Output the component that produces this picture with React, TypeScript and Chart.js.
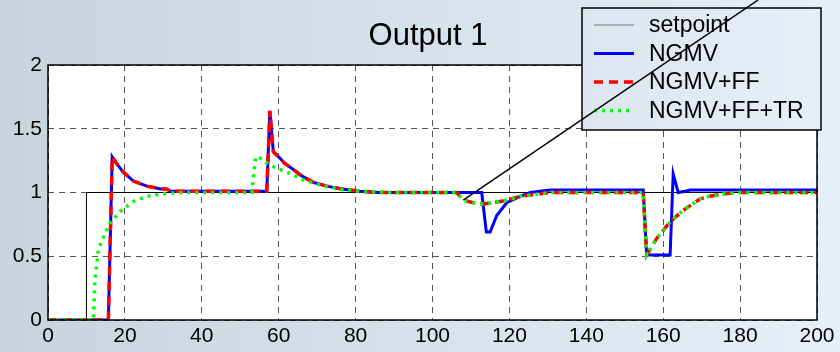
import React, { useEffect, useRef } from "react";
import { Chart, registerables } from "chart.js";

Chart.register(...registerables);

const titleText = "Output 1";
const seriesNames = ["setpoint", "NGMV", "NGMV+FF", "NGMV+FF+TR"];
const xTicks = [0, 200, 20];
const yTicks = [0, 2, 0.5];

const setpoint: [number, number][] = [
  [0, 0], [10, 0], [10, 1], [200, 1],
];

const ngmv: [number, number][] = [
  [0, 0], [15.7, 0], [16.7, 1.28], [18, 1.22], [19.6, 1.16], [22.2, 1.09], [25.7, 1.05],
  [29, 1.03], [31, 1.025], [31.8, 1.01], [56.9, 1.01], [57.7, 1.64], [58.6, 1.32],
  [60.3, 1.27], [61.5, 1.23], [63.8, 1.18], [66, 1.13], [69, 1.08], [72.5, 1.05],
  [76, 1.03], [81, 1.01], [86, 1.0], [112.8, 1.0], [114, 0.69], [115, 0.69],
  [116.7, 0.82], [119.3, 0.92], [122.8, 0.97], [125.4, 1.0], [130.6, 1.02],
  [154.8, 1.02], [155.7, 0.51], [161.8, 0.51], [162.6, 1.145], [163.9, 1.0],
  [165.7, 1.01], [167, 1.02], [200, 1.02],
];

const ngmvFF: [number, number][] = [
  [0, 0], [15.7, 0], [16.7, 1.28], [18, 1.22], [19.6, 1.16], [22.2, 1.09], [25.7, 1.05],
  [29, 1.03], [31, 1.025], [31.8, 1.01], [56.9, 1.01], [57.7, 1.64], [58.6, 1.32],
  [60.3, 1.27], [61.5, 1.23], [63.8, 1.18], [66, 1.13], [69, 1.08], [72.5, 1.05],
  [76, 1.03], [81, 1.01], [86, 1.0], [106.3, 1.0], [108, 0.94], [110.6, 0.92],
  [113.2, 0.91], [115.8, 0.92], [119.3, 0.94], [122.8, 0.97], [128, 0.99],
  [130.6, 1.0], [154.8, 1.0], [155.7, 0.51], [158.3, 0.64], [161.8, 0.77],
  [165.2, 0.86], [169.6, 0.95], [172, 0.97], [176, 0.99], [180, 1.0], [200, 1.0],
];

const ngmvFFTR: [number, number][] = [
  [0, 0], [11.8, 0], [12.2, 0.31], [13.1, 0.55], [14.4, 0.65], [16.1, 0.76],
  [18.7, 0.85], [22.2, 0.93], [25.7, 0.97], [30.9, 0.995], [35, 1.0], [53, 1.0],
  [54, 1.28], [55.2, 1.27], [56.9, 1.23], [59.5, 1.19], [62.9, 1.15], [66.4, 1.1],
  [70.7, 1.06], [76, 1.025], [81, 1.01], [90, 1.0], [106.3, 1.0], [108, 0.94],
  [110.6, 0.92], [113.2, 0.91], [115.8, 0.92], [119.3, 0.94], [122.8, 0.97],
  [128, 0.99], [130.6, 1.0], [154.8, 1.0], [155.7, 0.51], [158.3, 0.64],
  [161.8, 0.77], [165.2, 0.86], [169.6, 0.95], [172, 0.97], [176, 0.99],
  [180, 1.0], [200, 1.0],
];

const arrowFrom: [number, number] = [108, 0.94];
const arrowTo: [number, number] = [184.7, 2.51];

const FONT = '"Liberation Sans", Arial, sans-serif';
const colors = ["#000000", "#0000ff", "#ff0000", "#00ff00"];
const widths = [1, 3, 3.5, 3.5];
const dashes: number[][] = [[], [], [9, 6], [3, 5]];

const toPts = (a: [number, number][]) => a.map(([x, y]) => ({ x, y }));

function bgGradient(ctx: CanvasRenderingContext2D, w: number) {
  const g = ctx.createLinearGradient(0, 0, w, 0);
  g.addColorStop(0, "#c9d3de");
  g.addColorStop(0.5, "#d7e1eb");
  g.addColorStop(1, "#e7eff9");
  return g;
}

const decorPlugin = {
  id: "decor",
  beforeDraw(chart: any) {
    const { ctx, width, height, chartArea: a } = chart;
    ctx.save();
    ctx.fillStyle = bgGradient(ctx, width);
    ctx.fillRect(0, 0, width, height);
    ctx.fillStyle = "#ffffff";
    ctx.fillRect(a.left, a.top, a.right - a.left, a.bottom - a.top);
    ctx.restore();
  },
  afterDraw(chart: any) {
    const { ctx, width, chartArea: a, scales } = chart;
    ctx.save();
    // axes box
    ctx.strokeStyle = "#000";
    ctx.lineWidth = 1.5;
    ctx.setLineDash([]);
    ctx.strokeRect(a.left, a.top, a.right - a.left, a.bottom - a.top);
    // title
    ctx.fillStyle = "#000";
    ctx.font = `31px ${FONT}`;
    ctx.textAlign = "center";
    ctx.textBaseline = "alphabetic";
    ctx.fillText(titleText, 428, 45);
    // legend
    const lx = 582, ly = 8, lw = 239, lh = 122;
    ctx.fillStyle = bgGradient(ctx, width);
    ctx.fillRect(lx, ly, lw, lh);
    ctx.strokeStyle = "#000";
    ctx.lineWidth = 1.5;
    ctx.strokeRect(lx, ly, lw, lh);
    ctx.font = `23px ${FONT}`;
    ctx.textAlign = "left";
    ctx.textBaseline = "middle";
    seriesNames.forEach((name, i) => {
      const y = 25 + i * 28.5;
      ctx.beginPath();
      ctx.strokeStyle = i === 0 ? "#777" : colors[i];
      ctx.lineWidth = widths[i];
      ctx.setLineDash(dashes[i]);
      ctx.moveTo(594, y);
      ctx.lineTo(634, y);
      ctx.stroke();
      ctx.setLineDash([]);
      ctx.fillStyle = "#000";
      ctx.fillText(name, 649, y + 1);
    });
    // annotation line
    const xs = scales.x, ys = scales.y;
    ctx.beginPath();
    ctx.strokeStyle = "#000";
    ctx.lineWidth = 1.5;
    ctx.moveTo(xs.getPixelForValue(arrowFrom[0]), ys.getPixelForValue(arrowFrom[1]));
    ctx.lineTo(xs.getPixelForValue(arrowTo[0]), ys.getPixelForValue(arrowTo[1]));
    ctx.stroke();
    ctx.restore();
  },
};

export default function App() {
  const ref = useRef<HTMLCanvasElement | null>(null);
  useEffect(() => {
    if (!ref.current) return;
    const series = [setpoint, ngmv, ngmvFF, ngmvFFTR];
    const chart = new Chart(ref.current, {
      type: "line",
      data: {
        datasets: series.map((s, i) => ({
          label: seriesNames[i],
          data: toPts(s),
          borderColor: colors[i],
          borderWidth: widths[i],
          borderDash: dashes[i],
          pointRadius: 0,
          fill: false,
          tension: 0,
          order: 4 - i,
        })),
      },
      options: {
        animation: false,
        responsive: false,
        devicePixelRatio: 1,
        layout: { padding: { top: 65, right: 23, left: 0, bottom: 0 } },
        plugins: { legend: { display: false }, title: { display: false }, tooltip: { enabled: false } },
        scales: {
          x: {
            type: "linear",
            min: xTicks[0],
            max: xTicks[1],
            ticks: { stepSize: xTicks[2], color: "#000", font: { size: 21, family: FONT }, padding: 4, maxRotation: 0, callback: (v: any) => String(v) },
            grid: { color: "#555", drawTicks: false, lineWidth: 1 },
            border: { display: false, dash: [6, 5] },
            afterFit: (s: any) => { s.height = 32; },
          },
          y: {
            type: "linear",
            min: yTicks[0],
            max: yTicks[1],
            ticks: { stepSize: yTicks[2], color: "#000", font: { size: 21, family: FONT }, padding: 6, callback: (v: any) => String(v) },
            grid: { color: "#555", drawTicks: false, lineWidth: 1 },
            border: { display: false, dash: [6, 5] },
            afterFit: (s: any) => { s.width = 48; },
          },
        },
      },
      plugins: [decorPlugin],
    });
    return () => chart.destroy();
  }, []);
  return (
    <div style={{ position: "absolute", left: 0, top: 0, width: 840, height: 352 }}>
      <canvas ref={ref} width={840} height={352} />
    </div>
  );
}
